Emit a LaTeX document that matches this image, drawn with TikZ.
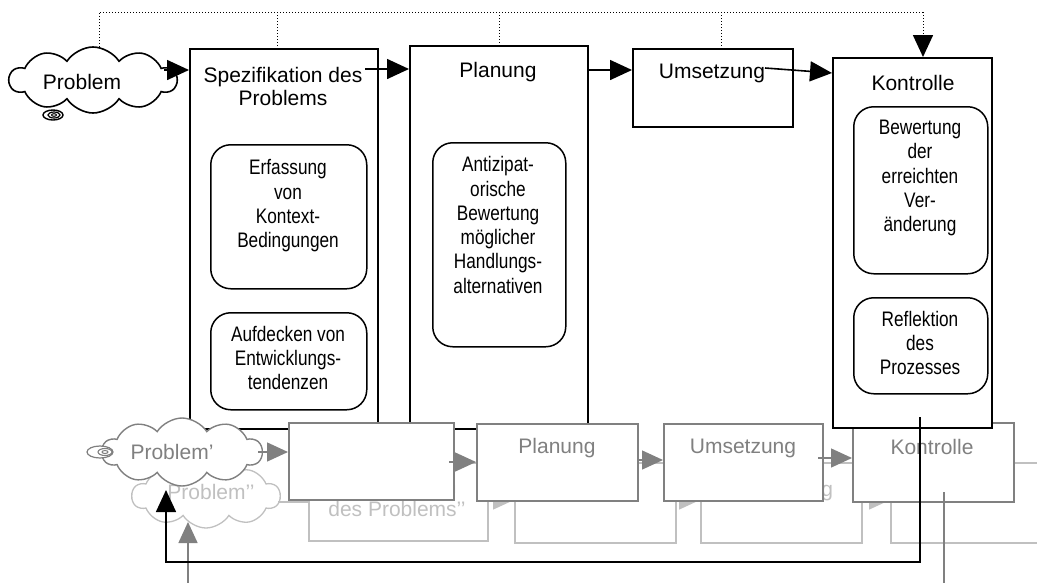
\documentclass[tikz,border=0pt]{standalone}
\usepackage{fontspec}
\setmainfont{Liberation Sans}
\newfontfamily\narrowf[FakeStretch=0.82]{Liberation Sans}
\usetikzlibrary{arrows.meta,shapes.symbols,calc}
\definecolor{gmid}{HTML}{808080}
\definecolor{glight}{HTML}{C0C0C0}
\begin{document}
\begin{tikzpicture}[x=1pt,y=-1pt,
  mainbox/.style={draw=black,line width=1.8pt,fill=white,rectangle,anchor=north west,inner sep=0pt},
  innerbox/.style={draw=black,line width=1.5pt,fill=white,rectangle,rounded corners=20pt,anchor=north west,inner sep=0pt},
  graybox/.style={draw=gmid,line width=1.5pt,fill=white,rectangle,anchor=north west,inner sep=0pt},
  lightbox/.style={draw=glight,line width=1.5pt,fill=white,rectangle,anchor=north west,inner sep=0pt},
  lbl/.style={align=center,inner sep=0pt,font=\fontsize{21}{23}\selectfont},
  inlbl/.style={align=center,inner sep=0pt,font=\narrowf\fontsize{21}{24.3}\selectfont},
  cloudshape/.style={cloud,cloud puffs=10,cloud puff arc=115,cloud ignores aspect,inner sep=0pt,fill=white},
  blkarr/.style={draw=black,line width=1.6pt,-{Triangle[length=22pt,width=20pt]}},
  grayarr/.style={draw=gmid,line width=1.5pt,-{Triangle[length=21pt,width=19pt]}},
  lightarr/.style={draw=glight,line width=1.5pt,-{Triangle[length=21pt,width=19pt]}},
  dotline/.style={draw=black,line width=1pt,dotted}
]
\useasboundingbox (0,0) rectangle (1037,582);
\clip (0,0) rectangle (1037,582);

% ---------- light (back) layer ----------
\node[cloudshape,draw=glight,line width=1.3pt,minimum width=148pt,minimum height=64pt] (cloudPP) at (206,496) {};
\node[lbl,text=glight] (tPP) at (211,492) {Problem’’};
\node[lightbox,minimum width=179pt,minimum height=78pt] (l1) at (308,462) {};
\node[lightbox,minimum width=161pt,minimum height=80pt] (l2) at (514,462) {};
\node[lightbox,minimum width=161pt,minimum height=80pt] (l3) at (700,462) {};
\node[lightbox,minimum width=180pt,minimum height=80pt] (l4) at (890,462) {};
\node[lbl,text=glight] (tl1) at (397,497) {Spezifikation\\des Problems’’};
\node[lbl,text=glight] (tl3) at (780,491) {Umsetzung};
\coordinate (la0) at (278,502);
\draw[draw=glight,line width=1.5pt] (la0) -- (la0 -| l1.west);
\coordinate (la1) at (487,500);
\draw[lightarr] (la1) -- (la1 -| l2.west);
\coordinate (la2) at (675,500);
\draw[lightarr] (la2) -- (la2 -| l3.west);
\coordinate (la3) at (861,500);
\draw[lightarr] (la3) -- (la3 -| l4.west);

% ---------- black boxes behind the gray layer ----------
\node[mainbox,minimum width=188pt,minimum height=380pt] (spec) at (189,48) {};
\node[mainbox,minimum width=178pt,minimum height=383pt] (plan) at (409,45) {};
\node[mainbox,minimum width=160pt,minimum height=78pt] (ums) at (632,48) {};
\node[lbl] (tspec) at (283,86) {Spezifikation des\\Problems};
\node[lbl] (tplan) at (498,72) {Planung};
\node[lbl] (tums) at (712,73) {Umsetzung};
\node[innerbox,minimum width=156pt,minimum height=144pt] (erf) at (210,144) {};
\node[inlbl] (terf) at (288,206) {Erfassung\\von\\Kontext-\\Bedingungen};
\node[innerbox,minimum width=156pt,minimum height=97pt] (auf) at (210,312) {};
\node[inlbl] (tauf) at (288,358) {Aufdecken von\\Entwicklungs-\\tendenzen};
\node[innerbox,minimum width=133pt,minimum height=204pt] (anti) at (432,142) {};
\node[inlbl] (tanti) at (498,225) {Antizipat-\\orische\\Bewertung\\möglicher\\Handlungs-\\alternativen};

% ---------- gray (middle) layer ----------
\node[cloudshape,draw=gmid,line width=1.4pt,minimum width=160pt,minimum height=68pt] (cloudP1) at (182,452) {};
\draw[gmid,line width=1.2pt,fill=white] (100,452) ellipse [x radius=13pt,y radius=6pt];
\draw[gmid,line width=1.1pt] (105,452) ellipse [x radius=7pt,y radius=3.5pt];
\draw[gmid,line width=1pt] (105,452) ellipse [x radius=3pt,y radius=1.5pt];
\node[lbl,text=gmid] (tP1) at (172,452) {Problem’};
\node[graybox,minimum width=165pt,minimum height=77pt] (g1) at (288,422) {};
\node[graybox,minimum width=161pt,minimum height=77pt] (g2) at (476,423) {};
\node[graybox,minimum width=159pt,minimum height=77pt] (g3) at (663,423) {};
\node[graybox,minimum width=161pt,minimum height=79pt] (g4) at (852,422) {};
\node[lbl,text=gmid] (tg2) at (557,448) {Planung};
\node[lbl,text=gmid] (tg3) at (743,448) {Umsetzung};
\node[lbl,text=gmid] (tg4) at (932,447) {Kontrolle};
\coordinate (ga0) at (258,452);
\draw[grayarr] (ga0) -- (ga0 -| g1.west);
\coordinate (ga1) at (449,462);
\draw[grayarr] (ga1) -- (ga1 -| g2.west);
\coordinate (ga2) at (637,460);
\draw[grayarr] (ga2) -- (ga2 -| g3.west);
\coordinate (ga3) at (818,458);
\draw[grayarr] (ga3) -- (ga3 -| g4.west);
\coordinate (gfb1) at (944,492);
\draw[gmid,line width=1.5pt] (gfb1) -- (944,590);
\coordinate (gfb2) at (188,590);
\coordinate (gfb3) at (188,522);
\draw[grayarr] (gfb2) -- (gfb3);

% ---------- black Kontrolle box (in front) ----------
\node[mainbox,minimum width=159pt,minimum height=370pt] (kon) at (832,57) {};
\node[lbl] (tkon) at (913,83) {Kontrolle};
\node[innerbox,minimum width=134pt,minimum height=167pt] (bew) at (853,106) {};
\node[inlbl] (tbew) at (920,178) {Bewertung\\der\\erreichten\\Ver-\\änderung};
\node[innerbox,minimum width=134pt,minimum height=96pt] (ref) at (853,297) {};
\node[inlbl] (tref) at (920,343) {Reflektion\\des\\Prozesses};

% ---------- black cloud ----------
\node[cloudshape,draw=black,line width=1.6pt,minimum width=167pt,minimum height=66pt] (cloudP) at (93,80) {};
\draw[black,line width=1.4pt,fill=white] (53,115) ellipse [x radius=10pt,y radius=5pt];
\draw[black,line width=1.2pt] (54,115) ellipse [x radius=6pt,y radius=3pt];
\draw[black,line width=1pt] (54,115) ellipse [x radius=2.5pt,y radius=1.3pt];
\node[lbl] (tP) at (82,82) {Problem};

% ---------- black arrows ----------
\coordinate (a0) at (164,70);
\draw[blkarr] (a0) -- (a0 -| spec.west);
\coordinate (a1) at (365,69);
\draw[blkarr] (a1) -- (a1 -| plan.west);
\coordinate (a2) at (587,70);
\draw[blkarr] (a2) -- (a2 -| ums.west);
\coordinate (a3) at (765,68);
\coordinate (a3e) at (832,73);
\draw[blkarr] (a3) -- (a3e);

% ---------- dotted line ----------
\coordinate (d1) at (99,12);
\coordinate (d2) at (277,12);
\coordinate (d3) at (499,12);
\coordinate (d4) at (721,12);
\coordinate (d5) at (923,12);
\draw[dotline] (99,47) -- (d1) -- (d5);
\draw[dotline] (d2) -- (d2 |- spec.north);
\draw[dotline] (d3) -- (d3 |- plan.north);
\draw[dotline] (d4) -- (d4 |- ums.north);
\draw[dotline] (d5) -- (923,36);
\draw[blkarr] (923,35) -- (d5 |- kon.north);

% ---------- black feedback ----------
\coordinate (fb1) at (920,417);
\coordinate (fb2) at (920,562);
\coordinate (fb3) at (166,562);
\coordinate (fb4) at (166,490);
\draw[blkarr] (fb1) -- (fb2) -- (fb3) -- (fb4);
\end{tikzpicture}
\end{document}
